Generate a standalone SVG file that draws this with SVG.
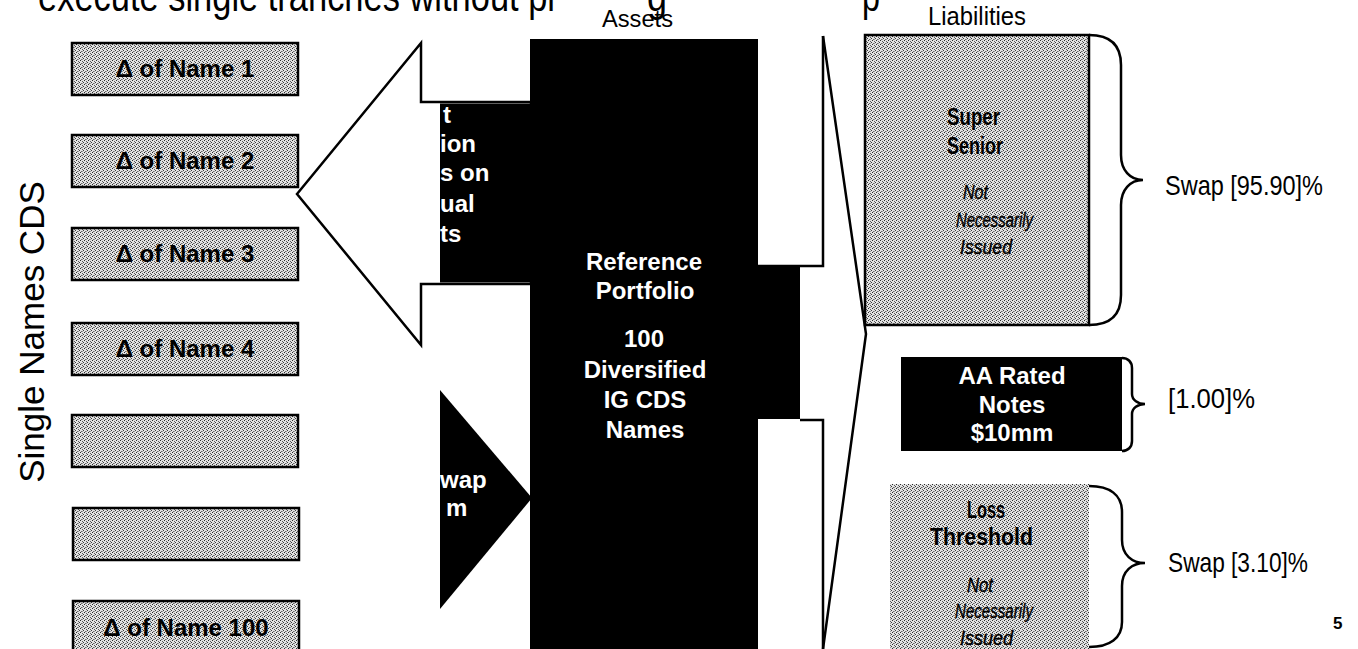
<svg xmlns="http://www.w3.org/2000/svg" width="1358" height="649" viewBox="0 0 1358 649">
<defs>
<pattern id="stip" width="4" height="4" patternUnits="userSpaceOnUse">
<rect width="4" height="4" fill="#e2e2e2"/>
<rect x="0" y="0" width="1" height="1" fill="#2a2a2a"/>
<rect x="2" y="1" width="1" height="1" fill="#5a5a5a"/>
<rect x="1" y="3" width="1" height="1" fill="#6a6a6a"/>
<rect x="3" y="2" width="1" height="1" fill="#3a3a3a"/>
<rect x="2" y="3" width="1" height="1" fill="#9a9a9a"/>
</pattern>
</defs>
<style>
text{font-family:"Liberation Sans",Arial,Helvetica,sans-serif;}
.reg{font-size:28px;fill:#000;}
.b24{font-size:24px;font-weight:bold;}
.w{fill:#fff;}
.k{fill:#000;}
.box{fill:url(#stip);stroke:#000;stroke-width:2.5;}
.ln{fill:none;stroke:#000;stroke-width:2.5;}
.it{font-size:20px;font-style:italic;fill:#000;stroke:#000;stroke-width:0.4;}
.bb{font-size:23px;font-weight:bold;fill:#000;}
</style>
<rect width="1358" height="649" fill="#fff"/>

<g id="title">
<text x="38" y="10.5" style="font-size:43px" textLength="517" lengthAdjust="spacingAndGlyphs">execute single tranches without pl</text>
<text x="647" y="10.5" style="font-size:43px" textLength="20" lengthAdjust="spacingAndGlyphs">g</text>
<text x="862" y="10.5" style="font-size:43px" textLength="18" lengthAdjust="spacingAndGlyphs">p</text>
</g>

<g id="label-assets"><text x="602" y="27" style="font-size:24px" textLength="71" lengthAdjust="spacingAndGlyphs">Assets</text></g>
<g id="label-liabilities"><text x="928" y="25" style="font-size:26px" textLength="98" lengthAdjust="spacingAndGlyphs">Liabilities</text></g>

<g id="label-single-names"><text transform="translate(43.5,332) rotate(-90)" x="0" y="0" text-anchor="middle" style="font-size:35px">Single Names CDS</text></g>

<g id="name1"><rect class="box" x="72" y="43" width="226" height="52"/><text class="b24 k" x="185" y="77" text-anchor="middle">Δ of Name 1</text></g>
<g id="name2"><rect class="box" x="72" y="135" width="226" height="52"/><text class="b24 k" x="185" y="169" text-anchor="middle">Δ of Name 2</text></g>
<g id="name3"><rect class="box" x="72" y="228" width="226" height="52"/><text class="b24 k" x="185" y="262" text-anchor="middle">Δ of Name 3</text></g>
<g id="name4"><rect class="box" x="72" y="323" width="226" height="52"/><text class="b24 k" x="185" y="357" text-anchor="middle">Δ of Name 4</text></g>
<g id="name5"><rect class="box" x="72" y="415" width="226" height="52"/></g>
<g id="name6"><rect class="box" x="73" y="508" width="226" height="52"/></g>
<g id="name100"><rect class="box" x="73" y="601" width="226" height="52"/><text class="b24 k" x="186" y="636" text-anchor="middle">Δ of Name 100</text></g>

<g id="portfolio">
<path class="k" d="M530,39 H758 V265 H800 V419 H758 V649 H530 Z"/>
<text class="b24 w" x="644" y="270" text-anchor="middle">Reference</text>
<text class="b24 w" x="645" y="299" text-anchor="middle">Portfolio</text>
<text class="b24 w" x="644" y="347" text-anchor="middle">100</text>
<text class="b24 w" x="645" y="378" text-anchor="middle">Diversified</text>
<text class="b24 w" x="645" y="408" text-anchor="middle">IG CDS</text>
<text class="b24 w" x="645" y="438" text-anchor="middle">Names</text>
</g>

<g id="protection-arrow">
<polygon points="297,194 421,43 421,102 531,102 531,284 421,284 421,345" fill="#fff" stroke="#000" stroke-width="2.5" stroke-linejoin="miter"/>
<rect x="440" y="103.5" width="92" height="179" fill="#000"/>
<text class="b24 w" x="443" y="122.7">t</text>
<text class="b24 w" x="440" y="151.7">ion</text>
<text class="b24 w" x="440" y="181">s on</text>
<text class="b24 w" x="440" y="211.7">ual</text>
<text class="b24 w" x="440" y="241.7">ts</text>
</g>

<g id="premium-arrow">
<polygon points="440,390 532,498 440,609" fill="#000"/>
<text class="b24 w" x="440" y="488">wap</text>
<text class="b24 w" x="446" y="516">m</text>
</g>

<g id="super-senior">
<rect class="box" x="865" y="35" width="224" height="290"/>
<text class="bb" x="947" y="125" textLength="53" lengthAdjust="spacingAndGlyphs">Super</text>
<text class="bb" x="947" y="154" textLength="56" lengthAdjust="spacingAndGlyphs">Senior</text>
<text class="it" x="963" y="199" textLength="25" lengthAdjust="spacingAndGlyphs">Not</text>
<text class="it" x="956" y="227" textLength="77" lengthAdjust="spacingAndGlyphs">Necessarily</text>
<text class="it" x="960" y="254" textLength="52" lengthAdjust="spacingAndGlyphs">Issued</text>
</g>

<g id="aa-notes">
<rect x="901" y="357" width="221" height="94" fill="#000"/>
<text class="b24 w" x="1012" y="384" text-anchor="middle">AA Rated</text>
<text class="b24 w" x="1012" y="413" text-anchor="middle">Notes</text>
<text class="b24 w" x="1012" y="441" text-anchor="middle">$10mm</text>
</g>

<g id="loss-threshold">
<rect x="890" y="484" width="199" height="170" fill="url(#stip)"/>
<text class="bb" x="967" y="518" textLength="38" lengthAdjust="spacingAndGlyphs">Loss</text>
<text class="bb" x="930" y="545" textLength="103" lengthAdjust="spacingAndGlyphs">Threshold</text>
<text class="it" x="967" y="592" textLength="26" lengthAdjust="spacingAndGlyphs">Not</text>
<text class="it" x="955" y="618" textLength="78" lengthAdjust="spacingAndGlyphs">Necessarily</text>
<text class="it" x="960" y="645" textLength="53" lengthAdjust="spacingAndGlyphs">Issued</text>
</g>

<g id="labels-right">
<text class="reg" x="1165" y="195" textLength="158" lengthAdjust="spacingAndGlyphs">Swap [95.90]%</text>
<text class="reg" x="1168" y="408" textLength="87" lengthAdjust="spacingAndGlyphs">[1.00]%</text>
<text class="reg" x="1168" y="572" textLength="140" lengthAdjust="spacingAndGlyphs">Swap [3.10]%</text>
<text x="1333" y="629" style="font-size:17px;font-weight:bold">5</text>
</g>

<g id="connectors">
<polyline class="ln" points="823,36 823,266 758,266"/>
<polyline class="ln" points="800,420 823,420 823,649"/>
<polyline class="ln" points="823,36 866,334 823,649"/>
<path class="ln" d="M1089,35 C1110,35 1121,45 1121,65 L1121,155 C1121,170 1130,180 1143,180 C1130,180 1121,190 1121,205 L1121,295 C1121,315 1110,325 1089,325"/>
<path class="ln" d="M1122,358 C1128,358 1132,362 1132,368 L1132,394 C1132,400 1138,404 1145,404 C1138,404 1132,408 1132,414 L1132,441 C1132,447 1128,451 1122,451"/>
<path class="ln" d="M1089,486 C1110,486 1122,495 1122,512 L1122,540 C1122,555 1132,563 1145,563 C1132,563 1122,571 1122,586 L1122,622 C1122,638 1110,647 1089,647"/>
</g>
</svg>
